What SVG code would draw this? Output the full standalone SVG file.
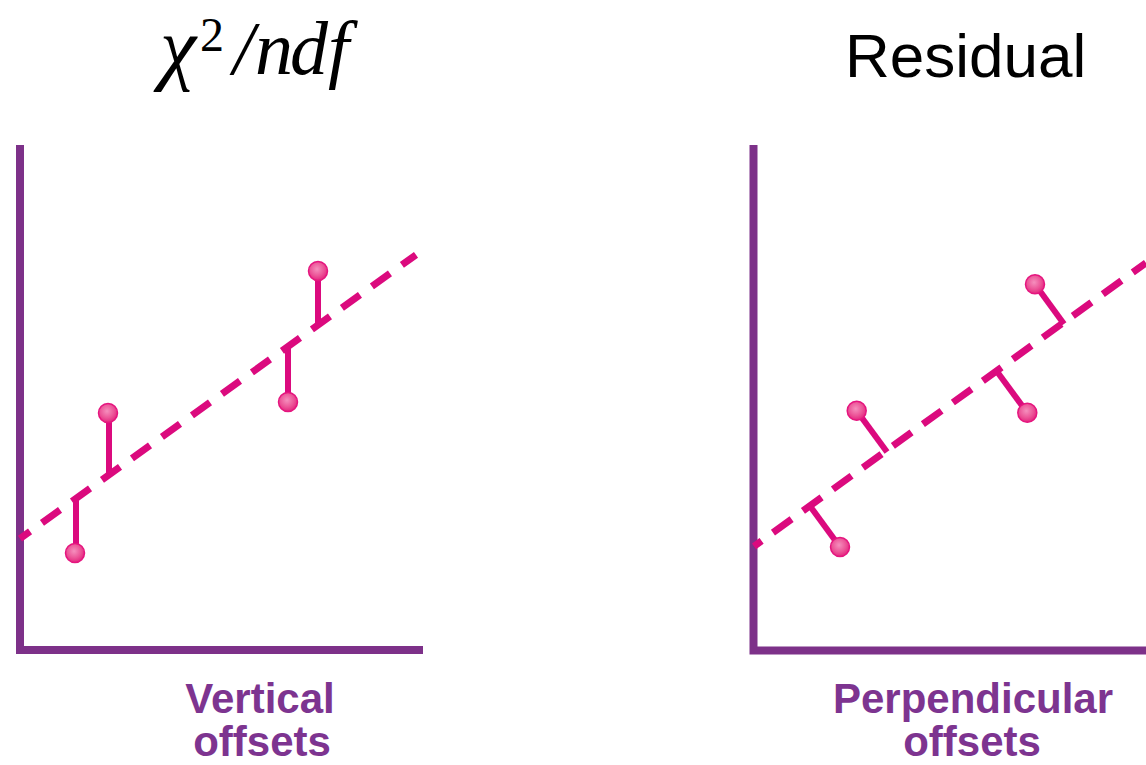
<svg xmlns="http://www.w3.org/2000/svg" width="1146" height="765" viewBox="0 0 1146 765">
  <defs>
    <radialGradient id="dotGrad" cx="0.45" cy="0.4" r="0.6">
      <stop offset="0" stop-color="#f58fbd"/>
      <stop offset="0.6" stop-color="#ec5598"/>
      <stop offset="1" stop-color="#e4267f"/>
    </radialGradient>
    <style>
      .axis { stroke: #7d3189; stroke-width: 8; fill: none; stroke-linecap: square; }
      .fit { stroke: #db0a7e; stroke-width: 7; fill: none; }
      .off { stroke: #db0a7e; stroke-width: 6; fill: none; stroke-linecap: butt; }
      .dot { fill: url(#dotGrad); stroke: #e5157f; stroke-width: 1.5; }
      .title { font-family: "Liberation Sans", Arial, sans-serif; font-size: 62px; fill: #000; }
      .math { font-family: "Liberation Serif", "Times New Roman", serif; font-style: italic; fill: #000; }
      .cap { font-family: "Liberation Sans", Arial, sans-serif; font-weight: bold; font-size: 42px; fill: #7d3490; text-anchor: middle; }
    </style>
  </defs>
  <rect width="1146" height="765" fill="#ffffff"/>

  <g id="title-left">
    <text class="math" x="160" y="74" font-size="82">χ</text>
    <text x="200" y="51" font-family="Liberation Serif, Times New Roman, serif" font-size="48" fill="#000">2</text>
    <text class="math" y="74" font-size="76"><tspan x="233">/</tspan><tspan x="255">n</tspan><tspan x="290">d</tspan><tspan x="328">f</tspan></text>
  </g>
  <text id="title-right" class="title" x="845" y="77">Residual</text>

  <g id="panel-left">
    <path class="axis" d="M20,149 V650 H419"/>
    <line class="fit" x1="20" y1="538.6" x2="416" y2="254.8" stroke-dasharray="22.2 14.7" stroke-dashoffset="9.85"/>
    <g id="left-offsets">
      <line class="off" x1="76" y1="553" x2="76" y2="497"/>
      <line class="off" x1="109" y1="413" x2="109" y2="476"/>
      <line class="off" x1="288" y1="402" x2="288" y2="345"/>
      <line class="off" x1="318" y1="271" x2="318" y2="326"/>
    </g>
    <g id="left-points">
      <circle class="dot" cx="75" cy="553" r="9.5"/>
      <circle class="dot" cx="108" cy="413" r="9.5"/>
      <circle class="dot" cx="288" cy="402" r="9.5"/>
      <circle class="dot" cx="318" cy="271" r="9.5"/>
    </g>
    <text class="cap" x="260" y="713">Vertical</text>
    <text class="cap" x="262" y="756">offsets</text>
  </g>

  <g id="panel-right">
    <path class="axis" d="M753.5,149 V650.5 H1150"/>
    <line class="fit" x1="754" y1="546.3" x2="1146" y2="262.9" stroke-dasharray="23 14" stroke-dashoffset="13.6"/>
    <g id="right-offsets">
      <line class="off" x1="840" y1="547" x2="808.5" y2="504"/>
      <line class="off" x1="856.7" y1="410.7" x2="887" y2="452"/>
      <line class="off" x1="1027.3" y1="412.7" x2="995.5" y2="369.5"/>
      <line class="off" x1="1035" y1="284.3" x2="1064" y2="324"/>
    </g>
    <g id="right-points">
      <circle class="dot" cx="840" cy="547" r="9.5"/>
      <circle class="dot" cx="856.7" cy="410.7" r="9.5"/>
      <circle class="dot" cx="1027.3" cy="412.7" r="9.5"/>
      <circle class="dot" cx="1035" cy="284.3" r="9.5"/>
    </g>
    <text class="cap" x="973" y="713">Perpendicular</text>
    <text class="cap" x="972" y="756">offsets</text>
  </g>
</svg>
